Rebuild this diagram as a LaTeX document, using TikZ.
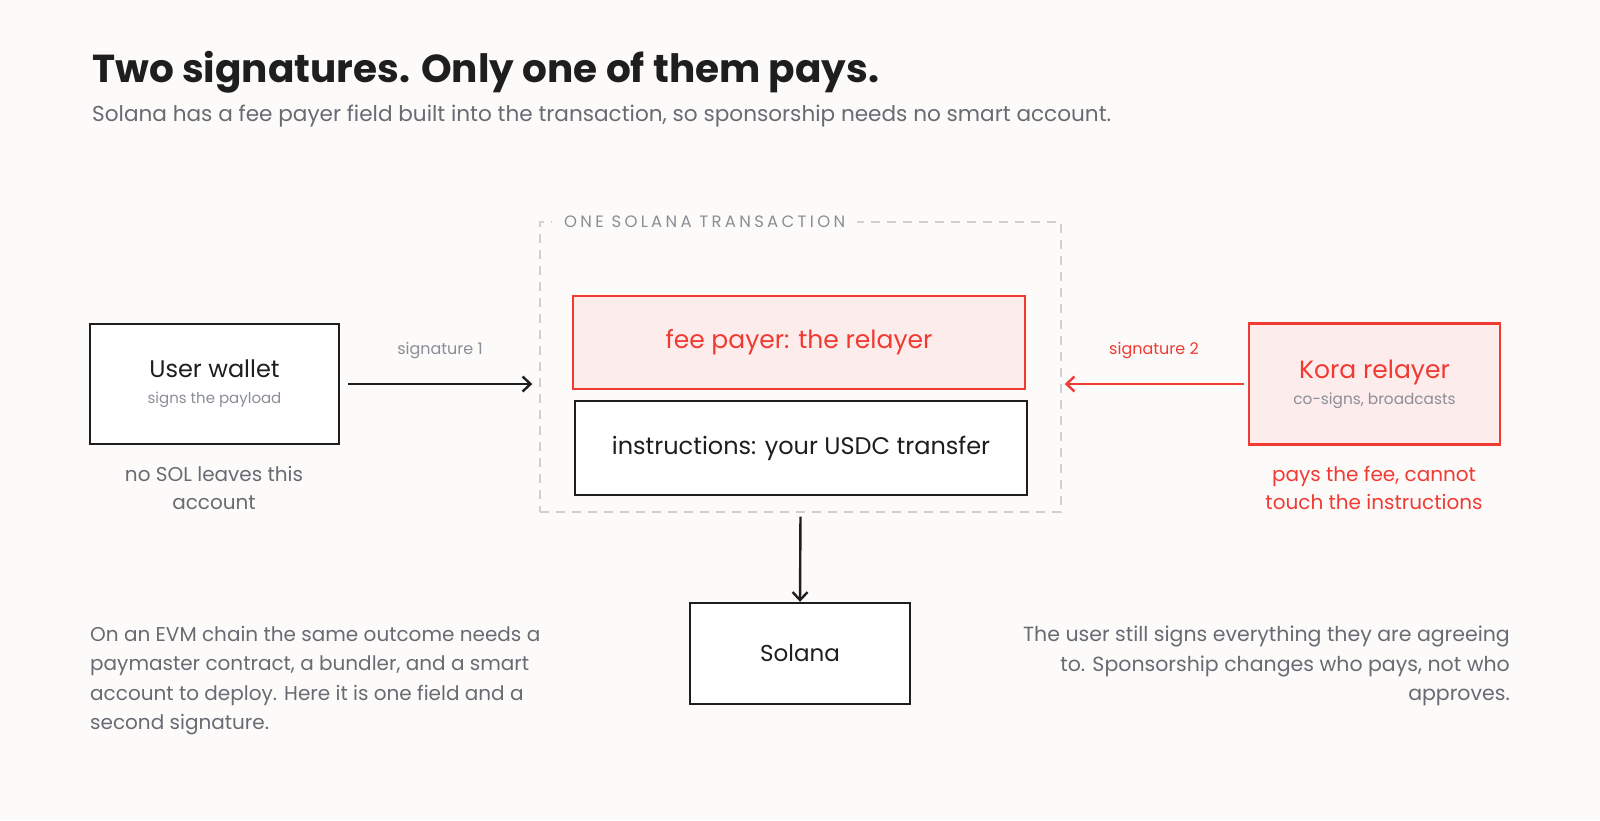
\documentclass[tikz,border=0pt]{standalone}
\usepackage{fontspec}
\setmainfont{Poppins}
\usetikzlibrary{arrows.meta}

\definecolor{paper}{RGB}{252,251,250}
\definecolor{ink}{RGB}{30,30,30}
\definecolor{relay}{RGB}{240,58,50}
\definecolor{relayfill}{RGB}{253,236,236}
\definecolor{muted}{RGB}{105,107,115}
\definecolor{faint}{RGB}{138,142,150}
\definecolor{dashgray}{RGB}{208,208,208}

\newcommand{\fs}[1]{\fontsize{#1}{1.2\dimexpr#1pt\relax}\selectfont}
\newcommand{\fsl}[2]{\fontsize{#1}{#2}\selectfont}

\begin{document}
\begin{tikzpicture}[x=1pt,y=-1pt,
    box/.style={draw=ink, line width=2.4pt, fill=white, inner sep=0pt, align=center},
    redbox/.style={box, draw=relay, fill=relayfill},
    sig/.style={line width=2.4pt, -{Straight Barb[length=8pt,width=15pt]}},
    small/.style={font=\fs{16}, text=faint},
    note/.style={font=\fsl{20}{28}, text=muted, align=center}]
  \fill[paper] (0,0) rectangle (1600,820);
  \useasboundingbox (0,0) rectangle (1600,820);

  % heading
  \node[anchor=base west, font=\fs{39}\bfseries, text=ink, inner sep=0pt] (title) at (92,82)
    {Two signatures. Only one of them pays.};
  \node[anchor=base west, font=\fs{21.6}, text=muted, inner sep=0pt] (subtitle) at (92,121)
    {Solana has a fee payer field built into the transaction, so sponsorship needs no smart account.};

  % the transaction frame
  \node[draw=dashgray, line width=1.4pt, dash pattern=on 9pt off 7pt,
        minimum width=521pt, minimum height=290pt] (frame) at (800.5,367) {};
  \node[anchor=west, fill=paper, inner xsep=12pt, font=\fs{16.5}\addfontfeatures{LetterSpace=20}, text=faint]
    (framelabel) at (552,222) {ONE SOLANA TRANSACTION};

  \node[redbox, minimum width=452pt, minimum height=93pt, font=\fs{25}, text=relay] (fee) at (799,342.5)
    {fee payer: the relayer};
  \node[box, minimum width=452pt, minimum height=94pt, font=\fs{24}, text=ink] (instr) at (801,448)
    {instructions: your USDC transfer};

  % signers
  \node[box, minimum width=249pt, minimum height=120pt, font=\fs{24}, text=ink] (wallet) at (214.5,384)
    {User wallet\\[-3pt]{\fs{15}\color{faint}signs the payload}};
  \node[redbox, minimum width=251pt, minimum height=121pt, font=\fs{25}, text=relay] (kora) at (1374.5,384)
    {Kora relayer\\[-4pt]{\fs{15.3}\color{faint}co-signs, broadcasts}};

  \node[note] (walletnote) at (214,488) {no SOL leaves this\\account};
  \node[note, text=relay] (koranote) at (1374,488) {pays the fee, cannot\\touch the instructions};

  % signatures
  \draw[sig, ink, shorten <=8pt, shorten >=7pt] (wallet.east) -- (frame.west |- wallet.east);
  \node[small] (sig1) at (440,351) {signature 1};
  \draw[sig, relay, shorten <=4pt, shorten >=3pt] (kora.west) -- (frame.east |- kora.west);
  \node[small, text=relay] (sig2) at (1154,351) {signature 2};

  % to the chain
  \node[box, minimum width=220pt, minimum height=101pt, font=\fs{23}, text=ink] (solana) at (800,653.5)
    {Solana};
  \draw[sig, ink, shorten <=4pt] (frame.south) -- (solana.north);

  % side notes
  \node[anchor=north west, font=\fsl{20}{29.5}, text=muted, align=left, inner sep=0pt] (evmnote) at (90,626)
    {On an EVM chain the same outcome needs a\\paymaster contract, a bundler, and a smart\\account to deploy. Here it is one field and a\\second signature.};
  \node[anchor=north east, font=\fsl{20.5}{29.5}, text=muted, align=right, inner sep=0pt] (usernote) at (1510,626)
    {The user still signs everything they are agreeing\\to. Sponsorship changes who pays, not who\\approves.};
\end{tikzpicture}
\end{document}
